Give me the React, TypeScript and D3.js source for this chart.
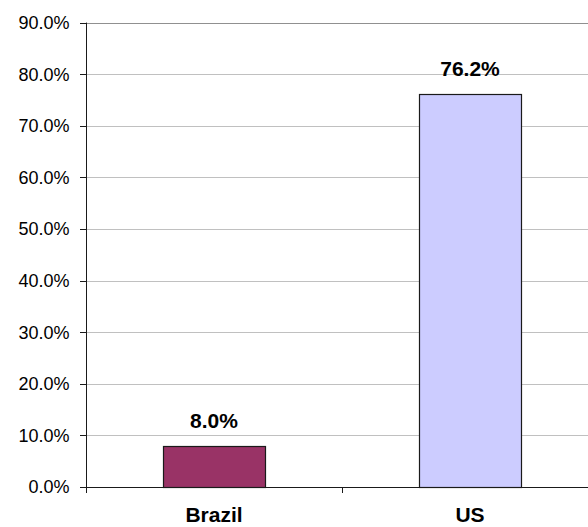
import React from "react";
import * as d3 from "d3";

// Share of respondents, by country
const categories: string[] = ["Brazil", "US"];
const values: number[] = [0.08, 0.762];
const barColors: string[] = ["#993366", "#CCCCFF"];
const yTickValues: number[] = [0, 0.1, 0.2, 0.3, 0.4, 0.5, 0.6, 0.7, 0.8, 0.9];

const WIDTH = 588;
const HEIGHT = 527;
const FONT = "Arial, 'Liberation Sans', Helvetica, sans-serif";

export default function App() {
  const left = 86;
  const right = 598;
  const top = 22.6;
  const bottom = 487;

  const y = d3.scaleLinear().domain([0, 0.9]).range([bottom, top]);
  const x = d3
    .scaleBand<string>()
    .domain(categories)
    .range([left, right])
    .paddingInner(0.6)
    .paddingOuter(0.3);
  const step = x.step();
  const fmt = d3.format(".1%");

  // category boundaries for the tick marks under the x axis
  const boundaries = d3.range(categories.length + 1).map((i) => left + i * step);

  return (
    <>
      <style>{`body{margin:0;}`}</style>
      <svg width={WIDTH} height={HEIGHT} style={{ display: "block", background: "#fff" }} fontFamily={FONT}>
        {/* gridlines */}
        {yTickValues.slice(1).map((t, i) => (
          <line
            key={"g" + i}
            x1={left}
            x2={right}
            y1={Math.round(y(t)) + 0.5}
            y2={Math.round(y(t)) + 0.5}
            stroke={t === 0.9 ? "#909090" : "#c0c0c0"}
            strokeWidth={1}
          />
        ))}

        {/* bars */}
        {categories.map((c, i) => (
          <rect
            key={"b" + c}
            x={Math.round(x(c)!) + 0.5}
            y={Math.round(y(values[i])) + 0.5}
            width={Math.round(x.bandwidth())}
            height={Math.round(y(0)) - Math.round(y(values[i]))}
            fill={barColors[i]}
            stroke="#1a1a1a"
            strokeWidth={1.2}
          />
        ))}

        {/* value labels */}
        {categories.map((c, i) => (
          <text
            key={"v" + c}
            x={x(c)! + x.bandwidth() / 2}
            y={y(values[i]) - 18}
            textAnchor="middle"
            fontSize={21}
            fontWeight="bold"
            fill="#000"
          >
            {fmt(values[i])}
          </text>
        ))}

        {/* y axis */}
        <line x1={left + 0.5} x2={left + 0.5} y1={top} y2={bottom + 6} stroke="#1a1a1a" strokeWidth={1} />
        {yTickValues.map((t, i) => (
          <g key={"yt" + i}>
            <line
              x1={left - 6}
              x2={left}
              y1={Math.round(y(t)) + 0.5}
              y2={Math.round(y(t)) + 0.5}
              stroke="#1a1a1a"
              strokeWidth={1}
            />
            <text x={69.5} y={y(t)} dy="0.36em" textAnchor="end" fontSize={18} fill="#000">
              {fmt(t)}
            </text>
          </g>
        ))}

        {/* x axis */}
        <line x1={left} x2={right} y1={bottom + 0.5} y2={bottom + 0.5} stroke="#1a1a1a" strokeWidth={1} />
        {boundaries.map((b, i) => (
          <line
            key={"xt" + i}
            x1={Math.round(b) + 0.5}
            x2={Math.round(b) + 0.5}
            y1={bottom}
            y2={bottom + 6}
            stroke="#1a1a1a"
            strokeWidth={1}
          />
        ))}
        {categories.map((c) => (
          <text
            key={"c" + c}
            x={x(c)! + x.bandwidth() / 2}
            y={522}
            textAnchor="middle"
            fontSize={21}
            fontWeight="bold"
            fill="#000"
          >
            {c}
          </text>
        ))}
      </svg>
    </>
  );
}
